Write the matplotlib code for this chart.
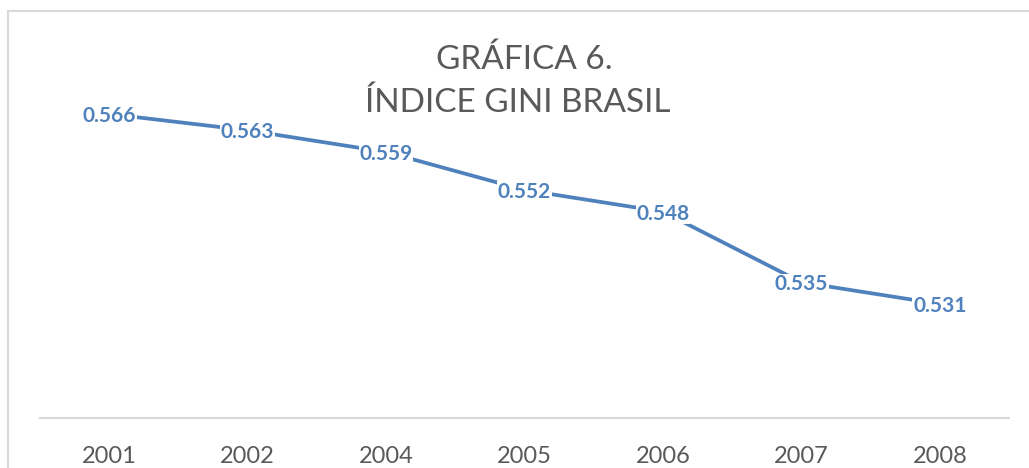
import matplotlib
matplotlib.use("Agg")
import matplotlib.pyplot as plt
from matplotlib.lines import Line2D

years = ["2001", "2002", "2004", "2005", "2006", "2007", "2008"]
gini = [0.566, 0.563, 0.559, 0.552, 0.548, 0.535, 0.531]
title_lines = ["GRÁFICA 6.", "ÍNDICE GINI BRASIL"]

W, H = 1029, 468
fig = plt.figure(figsize=(W / 100, H / 100), dpi=100)
fig.patch.set_facecolor("white")

# chart frame (top and left edges visible)
fig.add_artist(Line2D([8 / W, 8 / W], [0, 1 - 11 / H], transform=fig.transFigure,
                      color="#D9D9D9", lw=1.5))
fig.add_artist(Line2D([8 / W, 1.0], [1 - 11 / H, 1 - 11 / H], transform=fig.transFigure,
                      color="#D9D9D9", lw=1.5))

ax = fig.add_axes([40 / W, 50 / H, (1009 - 40) / W, (418 - 38) / H])
x = list(range(len(years)))
blue = "#4F81BD"
ax.plot(x, gini, color=blue, lw=2.7, solid_capstyle="butt", zorder=2)
for xi, v in zip(x, gini):
    ax.text(xi, v, f"{v:.3f}", ha="center", va="center_baseline", fontsize=15,
            fontweight="bold", color=blue, family="Lato",
            bbox=dict(facecolor="white", edgecolor="none", pad=0.5), zorder=3)

ax.set_xlim(-0.5, len(years) - 0.5)
ax.set_ylim(0.51, 0.58)
ax.set_xticks(x)
ax.set_xticklabels(years, fontsize=17, color="#595959", family="Lato")
ax.tick_params(axis="x", length=0, pad=20)
ax.set_yticks([])
for s in ["top", "right", "left"]:
    ax.spines[s].set_visible(False)
ax.spines["bottom"].set_color("#D9D9D9")
ax.spines["bottom"].set_linewidth(1.5)
ax.set_facecolor("none")

fig.text(0.510, 1 - 60 / H, title_lines[0], ha="center", va="center", fontsize=24,
         color="#595959", family="Lato")
fig.text(0.503, 1 - 103 / H, title_lines[1], ha="center", va="center", fontsize=24,
         color="#595959", family="Lato")

fig.savefig("out.png", dpi=100, facecolor="white")
